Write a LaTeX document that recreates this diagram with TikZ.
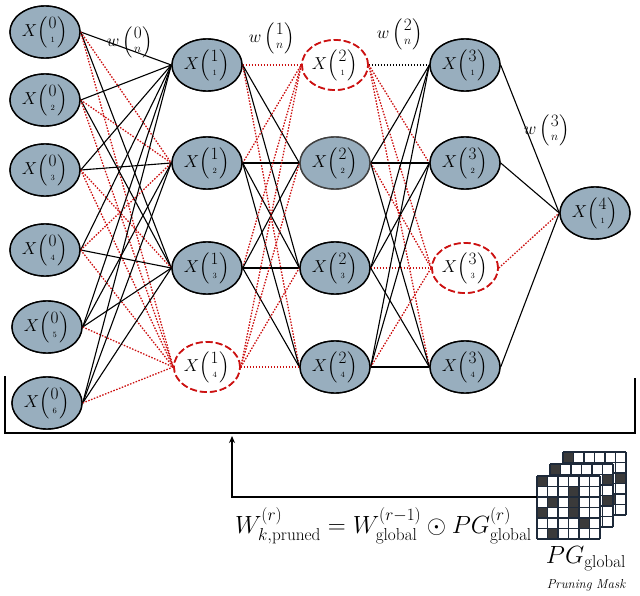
\documentclass[tikz,border=0pt]{standalone}
\usepackage{amsmath}
\usetikzlibrary{shapes.geometric,arrows.meta}
\begin{document}
\begin{tikzpicture}[x=1pt,y=-1pt,
  neuron/.style={ellipse,draw=black,line width=1.4pt,fill=nfill,minimum width=70pt,minimum height=52pt,inner sep=0pt,font=\fontsize{17}{20}\selectfont},
  pruned/.style={ellipse,draw=pred,dash pattern=on 7pt off 3pt,line width=1.7pt,fill=white,minimum width=66pt,minimum height=50pt,inner sep=0pt,font=\fontsize{17}{20}\selectfont},
  keep/.style={black,line width=1.1pt},
  cut/.style={pred,line width=1.3pt,dash pattern=on 1.5pt off 1.5pt},
  cutb/.style={black,line width=1.3pt,dash pattern=on 1.5pt off 1.5pt},
  wlab/.style={font=\fontsize{18}{22}\selectfont},
  frame/.style={black,line width=1.3pt}]
\definecolor{nfill}{HTML}{98AEBE}
\definecolor{pred}{HTML}{CC1111}
\definecolor{cdark}{HTML}{3A3A3A}
\definecolor{cline}{HTML}{1E2A3A}
\useasboundingbox (0,0) rectangle (640,596);
\newcommand{\XL}[2]{$X\Bigl(\genfrac{}{}{0pt}{1}{\textstyle #1}{\scriptscriptstyle #2}\Bigr)$}
\newcommand{\WL}[1]{$w\,\Bigl(\genfrac{}{}{0pt}{1}{\textstyle #1}{\scriptstyle n}\Bigr)$}
% nodes
\node[neuron] (a1) at (45,32) {\XL{0}{1}};
\node[neuron] (a2) at (45,100) {\XL{0}{2}};
\node[neuron] (a3) at (45,170) {\XL{0}{3}};
\node[neuron] (a4) at (45,250) {\XL{0}{4}};
\node[neuron] (a5) at (47,327) {\XL{0}{5}};
\node[neuron] (a6) at (47,403) {\XL{0}{6}};
\node[neuron] (b1) at (207,65) {\XL{1}{1}};
\node[neuron] (b2) at (207,163) {\XL{1}{2}};
\node[neuron] (b3) at (207,268) {\XL{1}{3}};
\node[pruned] (b4) at (207,367) {\XL{1}{4}};
\node[pruned] (c1) at (335,65) {\XL{2}{1}};
\node[neuron,draw=black!75] (c2) at (335,163) {\XL{2}{2}};
\node[neuron] (c3) at (335,268) {\XL{2}{3}};
\node[neuron] (c4) at (335,367) {\XL{2}{4}};
\node[neuron] (d1) at (465,65) {\XL{3}{1}};
\node[neuron] (d2) at (465,163) {\XL{3}{2}};
\node[pruned] (d3) at (465,268) {\XL{3}{3}};
\node[neuron] (d4) at (465,367) {\XL{3}{4}};
\node[neuron] (e1) at (595,213) {\XL{4}{1}};
% edges
\foreach \s/\t/\st in {a1/b1/keep,a1/b2/cut,a1/b3/keep,a1/b4/cut,
  a2/b1/keep,a2/b2/cut,a2/b3/keep,a2/b4/cut,
  a3/b1/keep,a3/b2/keep,a3/b3/cut,a3/b4/cut,
  a4/b1/keep,a4/b2/cut,a4/b3/keep,a4/b4/cut,
  a5/b1/keep,a5/b2/keep,a5/b3/keep,a5/b4/cut,
  a6/b1/keep,a6/b2/keep,a6/b3/keep,a6/b4/cut,
  b1/c1/cut,b1/c2/keep,b1/c3/keep,b1/c4/cut,
  b2/c1/cut,b2/c2/keep,b2/c3/keep,b2/c4/keep,
  b3/c1/cut,b3/c2/keep,b3/c3/keep,b3/c4/keep,
  b4/c1/cut,b4/c2/cut,b4/c3/cut,b4/c4/cut,
  c1/d1/cutb,c1/d2/cut,c1/d3/cut,c1/d4/cut,
  c2/d1/keep,c2/d2/keep,c2/d3/cut,c2/d4/keep,
  c3/d1/keep,c3/d2/keep,c3/d3/cut,c3/d4/keep,
  c4/d1/keep,c4/d2/keep,c4/d3/cut,c4/d4/keep,
  d1/e1/keep,d2/e1/keep,d3/e1/cut,d4/e1/keep}
  \draw[\st] (\s.east) -- (\t.west);
% redraw nodes on top of edges
\foreach \n/\l/\u in {a1/0/1,a2/0/2,a3/0/3,a4/0/4,a5/0/5,a6/0/6,b1/1/1,b2/1/2,b3/1/3,c3/2/3,c4/2/4,d1/3/1,d2/3/2,d4/3/4,e1/4/1}
  \node[neuron] at (\n) {\XL{\l}{\u}};
\node[neuron,draw=black!75] at (c2) {\XL{2}{2}};
\foreach \n/\l/\u in {b4/1/4,c1/2/1,d3/3/3}
  \node[pruned] at (\n) {\XL{\l}{\u}};
% weight labels
\node[wlab] (w0) at (130,42) {\WL{0}};
\node[wlab] (w1) at (272,38) {\WL{1}};
\node[wlab] (w2) at (400,34) {\WL{2}};
\node[wlab] (w3) at (547,130) {\WL{3}};
% bracket
\coordinate (fl) at (5,376);
\coordinate (fr) at (635,378);
\draw[frame] (fl) -- (5,433) -- (635,433) -- (fr);
% mask
\newcommand{\maskgrid}[3]{%
  \fill[white] (#1,#2) rectangle ++(63,63);
  \foreach \rr/\cc in {#3} {
    \fill[cdark] ({#1+\cc*10.5},{#2+\rr*10.5}) rectangle ++(10.5,10.5);}
  \foreach \ii in {0,...,6} {
    \draw[cline,line width=1.1pt] ({#1+\ii*10.5},#2) -- ++(0,63);
    \draw[cline,line width=1.1pt] (#1,{#2+\ii*10.5}) -- ++(63,0);}
}
\maskgrid{563}{452}{0/0,2/5,4/4}
\maskgrid{550}{464}{0/0,1/5,3/5}
\maskgrid{537}{476}{0/0,1/3,2/1,2/3,3/0,3/3,4/4,5/1}
\coordinate (mk) at (537,497);
\coordinate (up) at (232,436);
\draw[frame,-{Stealth[length=7pt,width=6pt]}] (mk) -- (232,497) -- (up);
\node[font=\fontsize{27}{30}\selectfont,anchor=east,inner sep=1pt] (eq) at (533,526)
  {$W^{(r)}_{k,\mathrm{pruned}} = W^{(r-1)}_{\mathrm{global}} \odot PG^{(r)}_{\mathrm{global}}$};
\node[font=\fontsize{26}{30}\selectfont] (pg) at (586,559) {$PG_{\mathrm{global}}$};
\node[font=\fontsize{13}{15}\selectfont\itshape] (pm) at (586,585) {Pruning Mask};
\end{tikzpicture}
\end{document}
